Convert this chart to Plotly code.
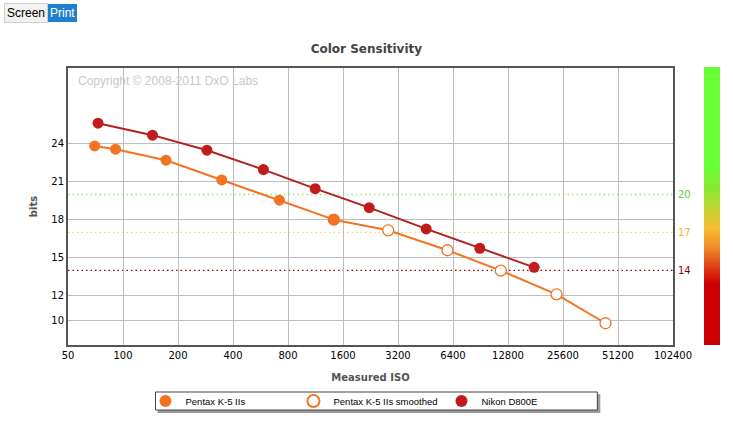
import plotly.graph_objects as go
import math

# ---------------- data ----------------
pentax_iso = [70, 91, 172, 347, 718, 1425]
pentax_bits = [23.84, 23.58, 22.71, 21.15, 19.55, 18.01]

smooth_iso = [1425, 2829, 5970, 11690, 23590, 43750]
smooth_bits = [18.01, 17.17, 15.59, 13.98, 12.11, 9.82]

nikon_iso = [73, 145, 288, 587, 1127, 2226, 4566, 8971, 17800]
nikon_bits = [25.64, 24.69, 23.50, 21.97, 20.46, 18.96, 17.28, 15.75, 14.24]

x_ticks = [50, 100, 200, 400, 800, 1600, 3200, 6400, 12800, 25600, 51200, 102400]
y_ticks = [10, 12, 15, 18, 21, 24]
thresholds = [20, 17, 14]
threshold_labels = ["20", "17", "14"]

# ---------------- layout helpers ----------------
W, H = 733, 422
L, R, T, B = 67.5, 672.7, 68, 345
PW, PH = R - L, B - T


def px(x):
    return (x - L) / PW


def py(y):
    return (B - y) / PH


ORANGE = "#F47320"
NIKON = "#C21B1B"
NIKON_LINE = "#B22020"
FONT = "DejaVu Sans, Verdana, sans-serif"
ARIAL = "Liberation Sans, Arial, sans-serif"
MS = 11

fig = go.Figure()

# lines (no legend)
for xs, ys, col in [(smooth_iso, smooth_bits, ORANGE),
                    (pentax_iso, pentax_bits, ORANGE),
                    (nikon_iso, nikon_bits, NIKON_LINE)]:
    fig.add_trace(go.Scatter(x=xs, y=ys, mode="lines", showlegend=False,
                             line=dict(color=col, width=2), hoverinfo="skip"))

# markers (legend)
fig.add_trace(go.Scatter(
    x=smooth_iso, y=smooth_bits, mode="markers",
    name="Pentax K-5 IIs smoothed", legendrank=2,
    marker=dict(size=MS, color="white", line=dict(color=ORANGE, width=1.3)),
))
fig.add_trace(go.Scatter(
    x=pentax_iso, y=pentax_bits, mode="markers",
    name="Pentax K-5 IIs", legendrank=1,
    marker=dict(size=MS, color=ORANGE),
))
fig.add_trace(go.Scatter(
    x=nikon_iso, y=nikon_bits, mode="markers",
    name="Nikon D800E", legendrank=3,
    marker=dict(size=MS, color=NIKON),
))

# colour scale bar (decoration)
fig.add_trace(go.Scatter(
    x=[None, None], y=[None, None], mode="markers", showlegend=False,
    hoverinfo="skip",
    marker=dict(
        color=[0, 1], cmin=0, cmax=1, showscale=True,
        colorscale=[
            [0.0, "#CC0000"], [0.22, "#CC0000"], [0.26, "#DA2A10"],
            [0.35, "#EF8A28"], [0.42, "#F6BE30"], [0.56, "#8CE833"],
            [0.64, "#66FF33"], [1.0, "#66FF33"],
        ],
        colorbar=dict(
            x=px(704), xanchor="left", xref="paper",
            y=py(67), yanchor="top", yref="paper",
            len=278, lenmode="pixels", thickness=16, thicknessmode="pixels",
            showticklabels=False, ticks="", outlinewidth=0, xpad=0, ypad=0,
        ),
    ),
))

shapes = []
thr_colors = ["#9BEA6E", "#F2D366", "#990000"]
lbl_colors = ["#66CC33", "#EBB830", "#990000"]
for v, c in zip(thresholds, thr_colors):
    shapes.append(dict(type="line", xref="paper", x0=0, x1=1, yref="y", y0=v, y1=v,
                       line=dict(color=c, width=1.3, dash="1.5px,3px"), layer="below"))

# legend box with shadow
lx0, lx1, ly0, ly1 = 155, 597, 392, 410
shapes.append(dict(type="rect", xref="paper", yref="paper",
                   x0=px(lx0 + 2), x1=px(lx1 + 3), y0=py(ly1 + 3), y1=py(ly0 + 2),
                   fillcolor="#9a9a9a", line=dict(width=0), layer="below"))
shapes.append(dict(type="rect", xref="paper", yref="paper",
                   x0=px(lx0), x1=px(lx1), y0=py(ly1), y1=py(ly0),
                   fillcolor="white", line=dict(color="#444444", width=1), layer="below"))

annotations = [
    dict(text="Copyright © 2008-2011 DxO Labs", xref="paper", yref="paper",
         x=px(76), y=py(81), xanchor="left", yanchor="middle", showarrow=False,
         font=dict(family=ARIAL, size=12, color="#c8c8c8")),
    dict(text="Screen", xref="paper", yref="paper", x=px(3), y=py(13),
         xanchor="left", yanchor="middle", showarrow=False,
         font=dict(family=ARIAL, size=12, color="black"),
         bgcolor="#f2f2f2", bordercolor="#d0d0d0", borderwidth=1, borderpad=2),
    dict(text="Print", xref="paper", yref="paper", x=px(47), y=py(13),
         xanchor="left", yanchor="middle", showarrow=False,
         font=dict(family=ARIAL, size=12, color="white"),
         bgcolor="#1f7fcf", bordercolor="#1f7fcf", borderwidth=1, borderpad=1),
]
for v, t, c in zip(thresholds, threshold_labels, lbl_colors):
    annotations.append(dict(text=t, xref="paper", yref="y", x=px(676), y=v,
                            xanchor="left", yanchor="middle", showarrow=False,
                            font=dict(family=FONT, size=10, color=c)))

fig.update_layout(
    width=W, height=H,
    margin=dict(l=L, r=W - R, t=T, b=H - B, pad=0, autoexpand=False),
    paper_bgcolor="white", plot_bgcolor="white",
    title=dict(text="<b>Color Sensitivity</b>", x=px(370), xanchor="center",
               y=1 - 49 / H, yanchor="middle",
               font=dict(family=FONT, size=12, color="#444444")),
    showlegend=True,
    legend=dict(orientation="h", x=px(145), xanchor="left", y=py(401), yanchor="middle",
                bgcolor="rgba(0,0,0,0)", borderwidth=0,
                font=dict(family=ARIAL, size=9.5, color="black"),
                entrywidth=103, entrywidthmode="pixels", itemsizing="constant",
                traceorder="normal"),
    shapes=shapes,
    annotations=annotations,
    xaxis=dict(
        type="log", range=[math.log10(50), math.log10(102400)],
        tickvals=x_ticks, ticktext=[str(v) for v in x_ticks],
        ticks="", showgrid=True, gridcolor="#bdbdbd", gridwidth=1,
        showline=True, linecolor="#555555", linewidth=2, mirror=True,
        zeroline=False, automargin=False,
        tickfont=dict(family=FONT, size=10, color="black"),
        title=dict(text="<b>Measured ISO</b>", standoff=14,
                   font=dict(family=FONT, size=10, color="#555555")),
    ),
    yaxis=dict(
        range=[8.1, 30], tickvals=y_ticks,
        ticks="", showgrid=True, gridcolor="#bdbdbd", gridwidth=1,
        showline=True, linecolor="#555555", linewidth=2, mirror=True,
        zeroline=False, automargin=False,
        tickfont=dict(family=FONT, size=10, color="black"),
        title=dict(text="<b>bits</b>", standoff=12,
                   font=dict(family=FONT, size=10, color="#555555")),
    ),
)

fig.write_html("out.html", config={"displayModeBar": False},
               post_script="document.body.style.margin='0';")
